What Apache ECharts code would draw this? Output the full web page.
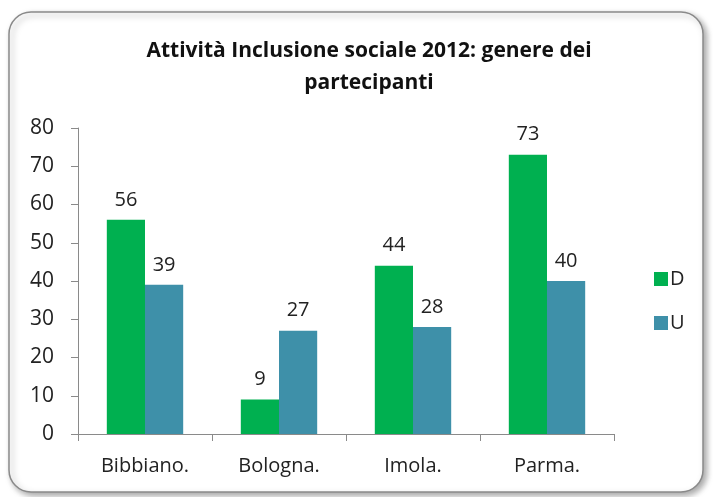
<!DOCTYPE html>
<html><head><meta charset="utf-8">
<script src="https://cdn.jsdelivr.net/npm/echarts@6/dist/echarts.min.js"></script>
<style>html,body{margin:0;padding:0;background:#fff}#c{width:713px;height:497px}</style>
</head><body><div id="c"></div>
<script>
const categories = ['Bibbiano.', 'Bologna.', 'Imola.', 'Parma.'];
const seriesD = [56, 9, 44, 73];
const seriesU = [39, 27, 28, 40];
const seriesNames = ['D', 'U'];
const yTicks = {min: 0, max: 80, interval: 10};
const FONT = '"Open Sans", "Noto Sans", sans-serif';
const chart = echarts.init(document.getElementById('c'));
const lbl = {show: true, position: 'top', distance: 10, color: '#222', fontSize: 20, fontFamily: FONT};
chart.setOption({
  animation: false,
  graphic: [{
    type: 'rect', shape: {x: 9, y: 12, width: 694, height: 480, r: 22},
    style: {fill: '#fff', stroke: '#8a8a8a', lineWidth: 1.5, shadowBlur: 6, shadowOffsetX: 3, shadowOffsetY: 3, shadowColor: 'rgba(0,0,0,0.35)'},
    z: -10
  }],
  title: {
    text: 'Attività Inclusione sociale 2012: genere dei\npartecipanti',
    left: 364, top: 30, textAlign: 'center',
    textStyle: {fontFamily: FONT, fontSize: 21, fontWeight: 'bold', color: '#111', lineHeight: 32}
  },
  legend: {
    orient: 'vertical', left: 649, top: 264, itemGap: 24, itemWidth: 14, itemHeight: 14,
    icon: 'rect', textStyle: {fontFamily: FONT, fontSize: 20, color: '#222', padding: [0, 0, 0, -3]},
    data: seriesNames
  },
  grid: {left: 78, right: 99, top: 128, bottom: 63, containLabel: false},
  xAxis: {
    type: 'category', data: categories,
    axisLine: {lineStyle: {color: '#8a8a8a', width: 1}},
    axisTick: {show: true, length: 7, lineStyle: {color: '#8a8a8a'}},
    axisLabel: {fontFamily: FONT, fontSize: 20, color: '#222', margin: 22}
  },
  yAxis: {
    type: 'value', min: yTicks.min, max: yTicks.max, interval: yTicks.interval,
    splitLine: {show: false},
    axisLine: {show: true, lineStyle: {color: '#8a8a8a', width: 1}},
    axisTick: {show: true, length: 7, lineStyle: {color: '#8a8a8a'}},
    axisLabel: {fontFamily: FONT, fontSize: 21, color: '#222', margin: 24}
  },
  series: [
    {name: seriesNames[0], type: 'bar', data: seriesD, barGap: '0%', barCategoryGap: '43%',
     itemStyle: {color: '#00b050'}, label: lbl},
    {name: seriesNames[1], type: 'bar', data: seriesU,
     itemStyle: {color: '#3e90a9'}, label: lbl}
  ]
});
</script></body></html>
